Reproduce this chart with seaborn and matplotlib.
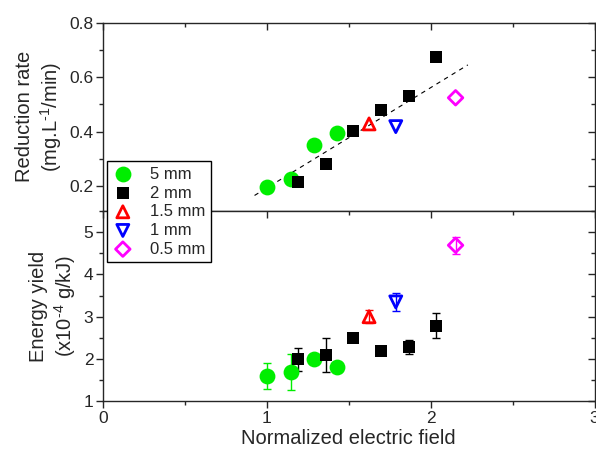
import numpy as np
import pandas as pd
import matplotlib
matplotlib.use('Agg')
import matplotlib.pyplot as plt
from matplotlib.ticker import MultipleLocator
import seaborn as sns

# Datos
groups = ['5 mm', '2 mm', '1.5 mm', '1 mm', '0.5 mm']
field = {
    '5 mm': [1.00, 1.145, 1.287, 1.43],
    '2 mm': [1.189, 1.36, 1.527, 1.697, 1.868, 2.035],
    '1.5 mm': [1.624],
    '1 mm': [1.787],
    '0.5 mm': [2.152],
}
rate = {
    '5 mm': [0.198, 0.226, 0.352, 0.393],
    '2 mm': [0.214, 0.280, 0.403, 0.480, 0.532, 0.674],
    '1.5 mm': [0.428],
    '1 mm': [0.418],
    '0.5 mm': [0.524],
}
energy = {
    '5 mm': [1.60, 1.69, 1.99, 1.80],
    '2 mm': [1.99, 2.09, 2.49, 2.19, 2.29, 2.79],
    '1.5 mm': [3.00],
    '1 mm': [3.35],
    '0.5 mm': [4.69],
}
energy_err = {
    '5 mm': [0.30, 0.43, 0.0, 0.0],
    '2 mm': [0.28, 0.40, 0.07, 0.0, 0.17, 0.30],
    '1.5 mm': [0.15],
    '1 mm': [0.22],
    '0.5 mm': [0.20],
}

colors = {'5 mm': '#00ee00', '2 mm': 'black', '1.5 mm': 'red', '1 mm': 'blue', '0.5 mm': 'magenta'}
markers = {'5 mm': 'o', '2 mm': 's', '1.5 mm': '^', '1 mm': 'v', '0.5 mm': 'D'}
filled = {'5 mm': True, '2 mm': True, '1.5 mm': False, '1 mm': False, '0.5 mm': False}
sizes = {'5 mm': 130, '2 mm': 85, '1.5 mm': 75, '1 mm': 75, '0.5 mm': 55}

rows = []
for g in groups:
    for x, r, e, err in zip(field[g], rate[g], energy[g], energy_err[g]):
        rows.append({'group': g, 'field': x, 'rate': r, 'energy': e, 'err': err})
df = pd.DataFrame(rows)

sns.set_style('ticks')
plt.rcParams['font.family'] = ['Liberation Sans', 'DejaVu Sans']
plt.rcParams['mathtext.fontset'] = 'custom'
plt.rcParams['mathtext.rm'] = 'Liberation Sans'
plt.rcParams['mathtext.it'] = 'Liberation Sans'

fig = plt.figure(figsize=(5.96, 4.53), dpi=100)
ax1 = fig.add_axes([0.1728, 0.5342, 0.8247, 0.4158])
ax2 = fig.add_axes([0.1728, 0.1141, 0.8247, 0.4201])

for g in groups:
    sub = df[df['group'] == g]
    c = colors[g]
    fc = c if filled[g] else 'none'
    lw = 0 if filled[g] else 2
    sns.scatterplot(data=sub, x='field', y='rate', ax=ax1, marker=markers[g], s=sizes[g],
                    facecolor=fc, edgecolor=c, linewidth=lw, zorder=3, legend=False)
    e = sub[sub['err'] > 0]
    ax2.errorbar(e['field'], e['energy'], yerr=e['err'], fmt='none', ecolor=c,
                 elinewidth=1, capsize=3, capthick=1, zorder=2)
    sns.scatterplot(data=sub, x='field', y='energy', ax=ax2, marker=markers[g], s=sizes[g],
                    facecolor=fc, edgecolor=c, linewidth=lw, zorder=3, legend=False,
                    label=g)

# Ajuste lineal de todos los puntos
slope, intercept = np.polyfit(df['field'], df['rate'], 1)
fit_x = np.array([df['field'].min() - 0.075, df['field'].max() + 0.075])
ax1.plot(fit_x, slope * fit_x + intercept, ls=(0, (4, 4)), color='black', lw=0.8, zorder=2)

for ax in (ax1, ax2):
    ax.set_xlim(0, 3)
    ax.xaxis.set_major_locator(MultipleLocator(1))
    ax.xaxis.set_minor_locator(MultipleLocator(0.5))
    for s in ax.spines.values():
        s.set_linewidth(1.0)
        s.set_visible(True)
    ax.tick_params(which='both', left=True, right=True, labelsize=12.5, width=1.0)
    ax.tick_params(which='major', length=5)
    ax.tick_params(which='minor', length=3)
    ax.tick_params(axis='y', which='both', direction='out')
    ax.tick_params(axis='both', which='both', pad=2)

ax1.set_ylim(0.108, 0.8)
ax1.yaxis.set_major_locator(MultipleLocator(0.2))
ax1.yaxis.set_minor_locator(MultipleLocator(0.1))
ax1.tick_params(axis='x', which='both', top=True, bottom=False, labelbottom=False, direction='in')
ax1.set_xlabel('')
ax1.set_ylabel('Reduction rate\n(mg.L$^{\\text{-1}}$/min)', fontsize=14.5, labelpad=4)

ax2.set_ylim(1, 5.5)
ax2.yaxis.set_major_locator(MultipleLocator(1))
ax2.yaxis.set_minor_locator(MultipleLocator(0.5))
ax2.tick_params(axis='x', which='both', top=True, bottom=True, direction='out')
ax2.set_xlabel('Normalized electric field', fontsize=14.5, labelpad=2)
ax2.set_ylabel('Energy yield\n(x10$^{\\text{-4}}$ g/kJ)', fontsize=14.5, labelpad=4)

for ax in (ax1, ax2):
    # ticks derechos y superiores hacia adentro
    for t in ax.yaxis.get_major_ticks() + ax.yaxis.get_minor_ticks():
        t.tick2line.set_marker(matplotlib.lines.TICKLEFT)
for t in ax2.xaxis.get_major_ticks() + ax2.xaxis.get_minor_ticks():
    t.tick2line.set_marker(matplotlib.lines.TICKDOWN)

fig.align_ylabels([ax1, ax2])

handles, labels = ax2.get_legend_handles_labels()
leg = fig.legend(handles, labels, loc='upper left', bbox_to_anchor=(107 / 596, 1 - 161 / 453),
                 fontsize=12, frameon=True, fancybox=False, framealpha=1, edgecolor='black',
                 handlelength=1.2, handletextpad=1.0, labelspacing=0.22, borderpad=0.35,
                 borderaxespad=0)
leg.get_frame().set_linewidth(1.0)

fig.savefig('out.png', dpi=100)
